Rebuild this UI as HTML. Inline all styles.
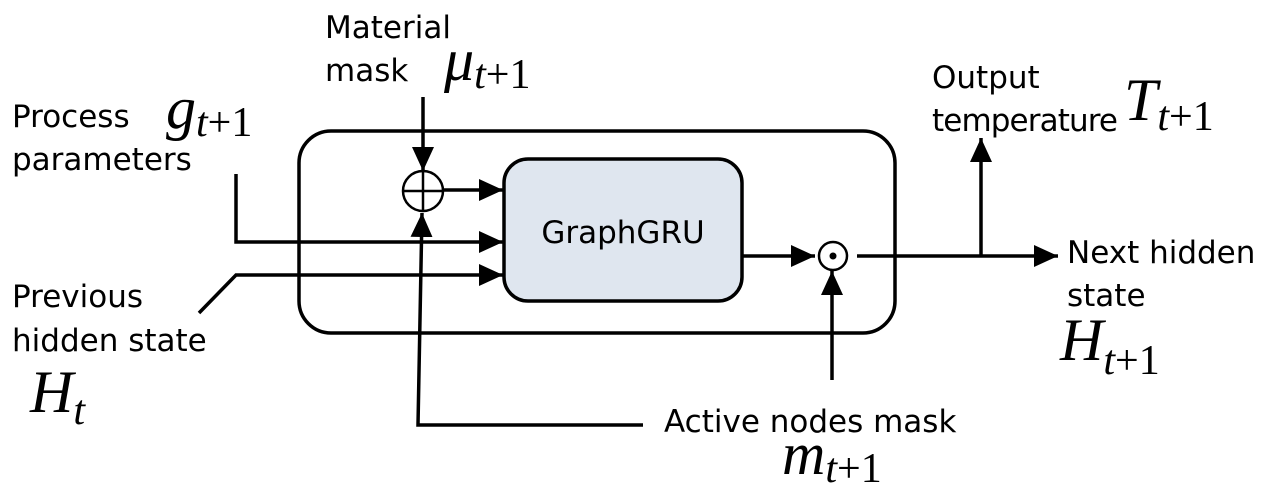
<!DOCTYPE html>
<html><head><meta charset="utf-8"><style>
html,body{margin:0;padding:0;background:#fff;}
svg{display:block;}
.t{font-family:"DejaVu Sans","Liberation Sans",sans-serif;font-size:31px;fill:#000;}
.m{font-family:"Liberation Serif",serif;font-style:italic;font-size:60px;fill:#000;}
.s{font-family:"Liberation Serif",serif;font-style:normal;font-size:42px;fill:#000;}
.si{font-family:"Liberation Serif",serif;font-style:italic;font-size:42px;fill:#000;}
</style></head><body>
<svg width="1269" height="498" viewBox="0 0 1269 498" xmlns="http://www.w3.org/2000/svg">
<defs>
<marker id="b" markerWidth="24" markerHeight="22" refX="24" refY="11" orient="auto" markerUnits="userSpaceOnUse"><path d="M0,0 L24,11 L0,22z" fill="#000"/></marker></defs>
<rect x="299" y="131" width="596" height="202" rx="32" fill="none" stroke="#000" stroke-width="3.5"/>
<rect x="504" y="159" width="238" height="142" rx="24" fill="#dfe6ef" stroke="#000" stroke-width="3.5"/>
<text class="t" x="623" y="243" text-anchor="middle">GraphGRU</text>
<g stroke="#000" stroke-width="3.5" fill="none">
<polyline points="236,174 236,242 503,242" marker-end="url(#b)"/>
<polyline points="199,313 236,275 503,275" marker-end="url(#b)"/>
<line x1="423" y1="97" x2="423" y2="171" marker-end="url(#b)"/>
<polyline points="643,425 418,425 422,213" marker-end="url(#b)"/>
<line x1="444" y1="190" x2="503" y2="190" marker-end="url(#b)"/>
<line x1="742" y1="256" x2="815" y2="256" marker-end="url(#b)"/>
<line x1="857" y1="256" x2="1058" y2="256" marker-end="url(#b)"/>
<line x1="981" y1="256" x2="981" y2="138" marker-end="url(#b)"/>
<line x1="832" y1="380" x2="832" y2="271" marker-end="url(#b)"/>
<circle cx="423" cy="191" r="20" stroke-width="2.5"/>
<line x1="403" y1="191" x2="443" y2="191" stroke-width="2.5"/>
<line x1="423" y1="171" x2="423" y2="211" stroke-width="2.5"/>
<circle cx="833" cy="256" r="14" stroke-width="2.5"/>
</g>
<circle cx="833" cy="256" r="3.5" fill="#000"/>
<text class="t" x="325" y="38">Material</text>
<text class="t" x="325" y="81">mask</text>
<text class="m" x="444" y="80">μ<tspan class="si" dy="8">t</tspan><tspan class="s">+1</tspan></text>
<text class="t" x="12" y="127">Process</text>
<text class="t" x="12" y="170">parameters</text>
<text class="m" x="166" y="128">g<tspan class="si" dy="8">t</tspan><tspan class="s">+1</tspan></text>
<text class="t" x="12" y="307">Previous</text>
<text class="t" x="12" y="351">hidden state</text>
<text class="m" x="30" y="412">H<tspan class="si" dy="12">t</tspan></text>
<text class="t" x="932" y="88">Output</text>
<text class="t" x="932" y="131" textLength="186">temperature</text>
<text class="m" x="1124" y="120">T<tspan class="si" dy="10">t</tspan><tspan class="s">+1</tspan></text>
<text class="t" x="1067" y="263">Next hidden</text>
<text class="t" x="1067" y="306">state</text>
<text class="m" x="1060" y="360">H<tspan class="si" dy="14">t</tspan><tspan class="s">+1</tspan></text>
<text class="t" x="664" y="432">Active nodes mask</text>
<text class="m" x="782" y="474">m<tspan class="si" dy="8">t</tspan><tspan class="s">+1</tspan></text>
</svg>
</body></html>
